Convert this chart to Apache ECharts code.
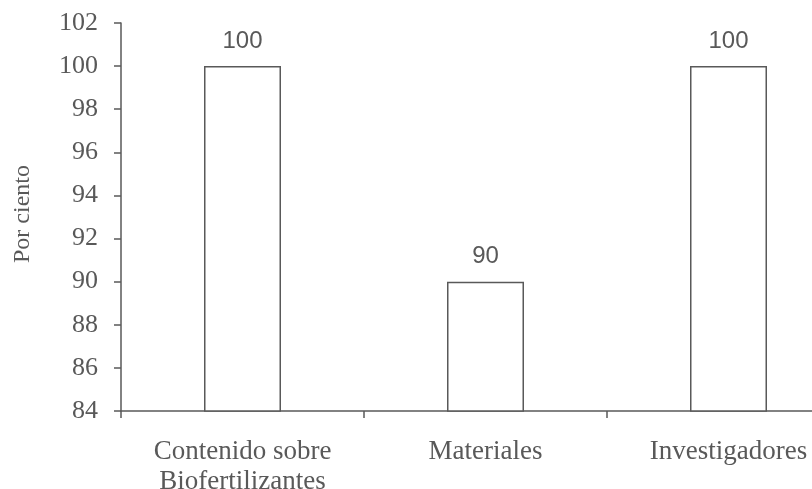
<!DOCTYPE html>
<html>
<head>
<meta charset="utf-8">
<style>
  html, body { margin: 0; padding: 0; background: #fff; overflow: hidden; }
  #chart { width: 812px; height: 489px; }
</style>
<script src="https://cdn.jsdelivr.net/npm/echarts@6/dist/echarts.min.js"></script>
</head>
<body>
<div id="chart"></div>
<script>
// Percentage of each aspect rated
const categories = ['Contenido sobre\nBiofertilizantes', 'Materiales', 'Investigadores'];
const values = [100, 90, 100];
const yTicks = { min: 84, max: 102, step: 2 };

const ink = '#595959';
const serif = '"Liberation Serif", "Times New Roman", serif';

const chart = echarts.init(document.getElementById('chart'), null, { renderer: 'canvas' });
chart.setOption({
  animation: false,
  backgroundColor: '#fff',
  grid: {
    left: 121, right: -38, top: 23, bottom: 78,
    containLabel: false, outerBoundsMode: 'none'
  },
  xAxis: {
    type: 'category',
    data: categories,
    axisLine: { lineStyle: { color: ink, width: 1.5 } },
    axisTick: { show: true, alignWithLabel: false, length: 7, lineStyle: { color: ink, width: 1.5 } },
    axisLabel: {
      color: ink, fontFamily: serif, fontSize: 27, lineHeight: 30, margin: 26, interval: 0
    }
  },
  yAxis: {
    type: 'value',
    min: yTicks.min,
    max: yTicks.max,
    interval: yTicks.step,
    name: 'Por ciento',
    nameLocation: 'middle',
    nameRotate: 90,
    nameGap: 86,
    nameTextStyle: { color: ink, fontFamily: serif, fontSize: 24, padding: [0, 0, 0, 6] },
    splitLine: { show: false },
    axisLine: { show: true, lineStyle: { color: ink, width: 1.5 } },
    axisTick: { show: true, length: 7, lineStyle: { color: ink, width: 1.5 } },
    axisLabel: { color: ink, fontFamily: serif, fontSize: 26, margin: 23 }
  },
  series: [{
    type: 'bar',
    data: values,
    barWidth: 77,
    itemStyle: { color: '#ffffff', borderColor: ink, borderWidth: 1.5 },
    label: {
      show: true,
      position: 'top',
      distance: 13,
      color: ink,
      fontFamily: '"Liberation Sans", Arial, sans-serif',
      fontSize: 24
    }
  }]
});
</script>
</body>
</html>
